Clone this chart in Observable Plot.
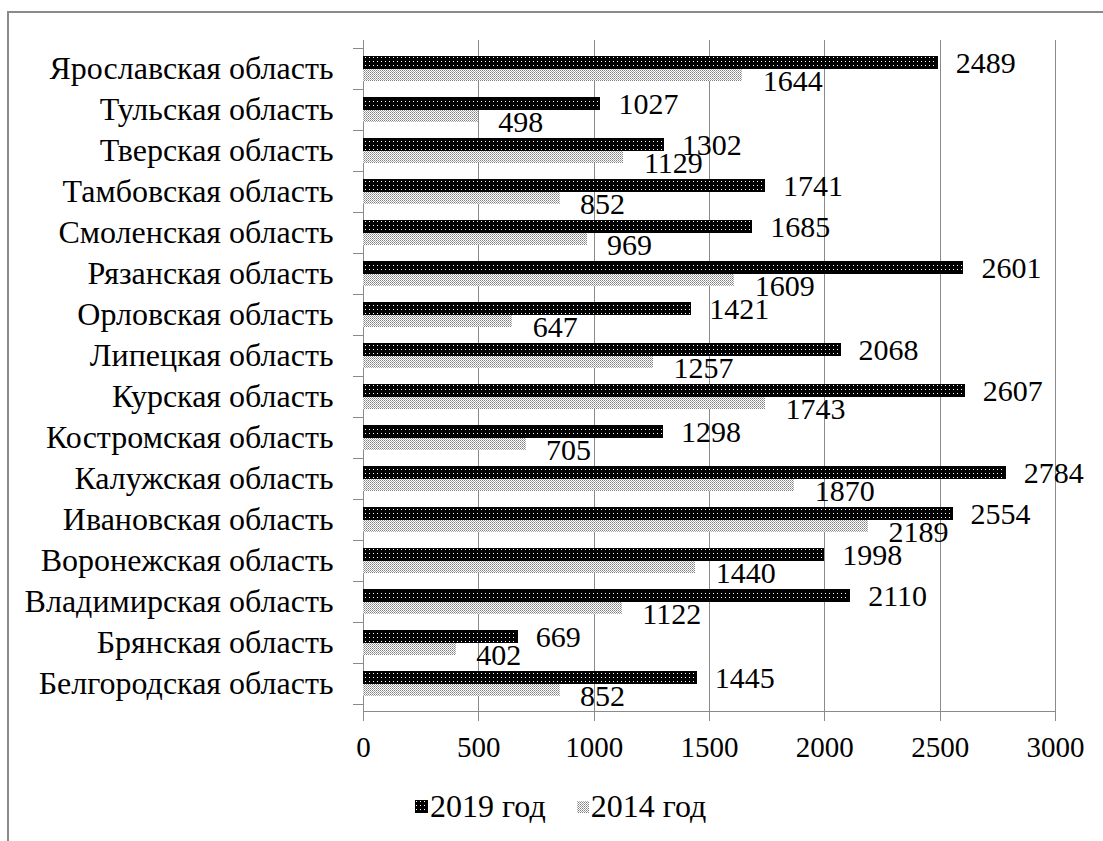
<!DOCTYPE html>
<html>
<head>
<meta charset="utf-8">
<script src="https://cdn.jsdelivr.net/npm/d3@7"></script>
<script src="https://cdn.jsdelivr.net/npm/@observablehq/plot@0.6"></script>
<style>
  html, body { margin: 0; padding: 0; background: #fff; }
  body { width: 1103px; height: 841px; overflow: hidden; position: relative; color: #000;
         font-family: 'Liberation Serif', serif; }
  #frame { position: absolute; left: 7px; top: 11px; width: 1200px; height: 1000px;
           border-left: 2px solid #8a8a8a; border-top: 2px solid #8a8a8a; box-sizing: border-box; }
  #chart { position: absolute; left: 0; top: 0; }
  #legend { position: absolute; left: 415px; top: 787px; display: flex; align-items: center;
            font-size: 32px; line-height: 38px; white-space: nowrap; font-family: 'Liberation Serif', serif; }
  #legend .item { display: flex; align-items: center; }
  #legend svg { display: block; margin-right: 2px; }
</style>
</head>
<body>
<svg width="0" height="0" style="position:absolute">
  <defs>
    <pattern id="p2019" patternUnits="userSpaceOnUse" width="4" height="4">
      <rect width="4" height="4" fill="#000"/>
      <rect x="1" y="1" width="1" height="1" fill="#fff"/>
    </pattern>
    <pattern id="p2014" patternUnits="userSpaceOnUse" width="2" height="2">
      <rect width="2" height="2" fill="#fff"/>
      <rect x="0" y="0" width="1" height="1" fill="#808080"/>
      <rect x="1" y="1" width="1" height="1" fill="#a8a8a8"/>
    </pattern>
  </defs>
</svg>
<div id="frame"></div>
<div id="chart"></div>
<div id="legend"></div>
<script>
// ---- data (top to bottom as in the chart) ----
const regions = [
  "Ярославская область",
  "Тульская область",
  "Тверская область",
  "Тамбовская область",
  "Смоленская область",
  "Рязанская область",
  "Орловская область",
  "Липецкая область",
  "Курская область",
  "Костромская область",
  "Калужская область",
  "Ивановская область",
  "Воронежская область",
  "Владимирская область",
  "Брянская область",
  "Белгородская область"
];
const values2019 = [2489, 1027, 1302, 1741, 1685, 2601, 1421, 2068, 2607, 1298, 2784, 2554, 1998, 2110, 669, 1445];
const values2014 = [1644, 498, 1129, 852, 969, 1609, 647, 1257, 1743, 705, 1870, 2189, 1440, 1122, 402, 852];
const seriesNames = ["2019 год", "2014 год"];
const xTicks = [0, 500, 1000, 1500, 2000, 2500, 3000];

// ---- build table ----
const rows = regions.map((r, i) => ({ region: r, v2019: values2019[i], v2014: values2014[i] }));

const W = 1103, H = 770;
const mLeft = 363, mRight = 48, mTop = 40, mBottom = 59;
const step = (H - mTop - mBottom) / regions.length;
const half = step / 2;
const barH = 12.5;
const gray = "#8a8a8a";
const font = "Liberation Serif";

const chart = Plot.plot({
  width: W,
  height: H,
  marginLeft: mLeft,
  marginRight: mRight,
  marginTop: mTop,
  marginBottom: mBottom,
  style: { background: "transparent", color: "#000", fontFamily: "'Liberation Serif', serif" },
  x: { domain: [0, 3000] },
  y: { domain: regions, padding: 0 },
  marks: [
    Plot.gridX(xTicks.slice(1), { stroke: gray, strokeOpacity: 1, strokeWidth: 1 }),
    Plot.ruleX([0], { stroke: gray, strokeWidth: 1 }),
    Plot.frame({ anchor: "bottom", stroke: gray, strokeWidth: 1 }),
    // category boundary ticks on the y axis
    Plot.ruleY(regions, { y: d => d, dy: -half, x1: -43, x2: 0, stroke: gray, strokeWidth: 1 }),
    Plot.ruleY([regions[regions.length - 1]], { y: d => d, dy: half, x1: -43, x2: 0, stroke: gray, strokeWidth: 1 }),
    Plot.axisX({ ticks: xTicks, tickSize: 10, tickPadding: 15, stroke: gray, fill: "#000",
                 tickFormat: d => String(d), label: null, fontSize: 29, fontFamily: font }),
    Plot.axisY({ tickSize: 0, tickPadding: 30, fill: "#000", label: null, fontSize: 32, fontFamily: font }),
    // 2019 bars (upper)
    Plot.barX(rows, { x: "v2019", y: "region", fill: "url(#p2019)", stroke: "#000", strokeWidth: 1,
                      insetTop: half - barH, insetBottom: half }),
    // 2014 bars (lower)
    Plot.barX(rows, { x: "v2014", y: "region", fill: "url(#p2014)",
                      insetTop: half, insetBottom: half - barH }),
    // labels
    Plot.text(rows, { x: "v2019", y: "region", text: d => String(d.v2019), textAnchor: "start",
                      dx: 18, dy: -6, fontSize: 30, fontFamily: font, fill: "#000" }),
    Plot.text(rows, { x: "v2014", y: "region", text: d => String(d.v2014), textAnchor: "start",
                      dx: 20, dy: 12, fontSize: 30, fontFamily: font, fill: "#000" })
  ]
});
chart.setAttribute("shape-rendering", "crispEdges");
document.getElementById("chart").append(chart);

// ---- legend ----
const legend = document.getElementById("legend");
const fills = ["url(#p2019)", "url(#p2014)"];
seriesNames.forEach((name, i) => {
  const item = document.createElement("div");
  item.className = "item";
  if (i > 0) item.style.marginLeft = "30px";
  const sw = d3.create("svg").attr("width", 13).attr("height", 13).attr("shape-rendering", "crispEdges");
  sw.append("rect").attr("x", 0.5).attr("y", 0.5).attr("width", 12).attr("height", 12)
    .attr("fill", fills[i]).attr("stroke", i === 0 ? "#000" : "none");
  item.append(sw.node());
  const t = document.createElement("span");
  t.textContent = name;
  item.append(t);
  legend.append(item);
});
</script>
</body>
</html>
